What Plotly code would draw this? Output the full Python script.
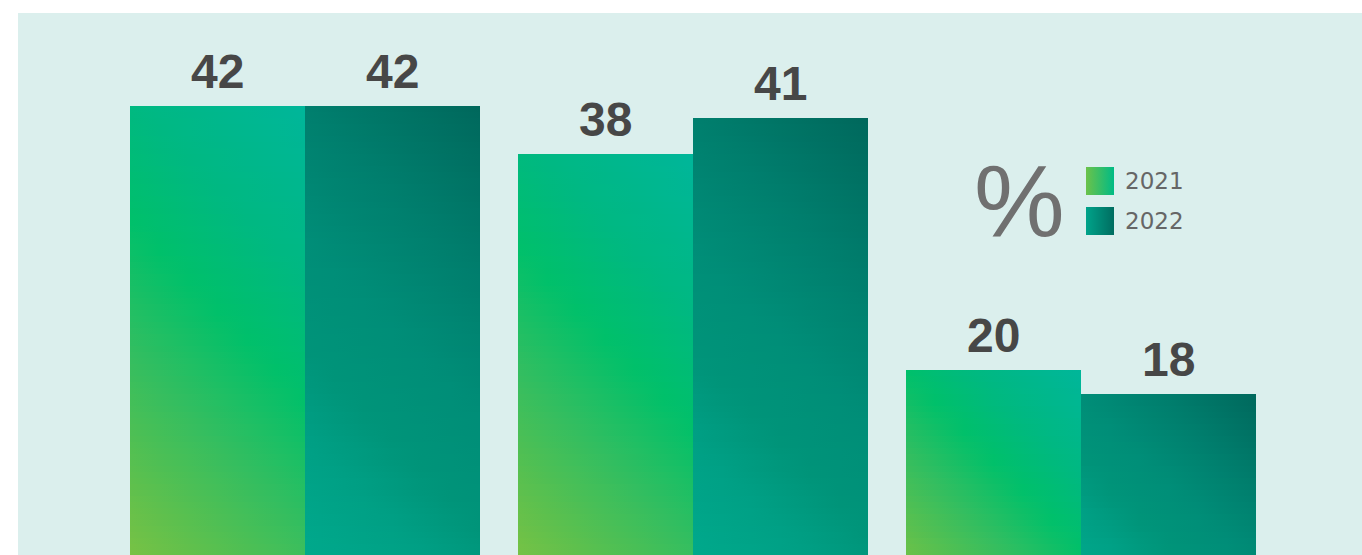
import plotly.graph_objects as go

# ---------------- data ----------------
categories = ["Group A", "Group B", "Group C"]
years = ["2021", "2022"]
values_2021 = [42, 38, 20]
values_2022 = [42, 41, 18]
unit_label = "%"

# ---------------- style ----------------
BG = "#dbefed"
LABEL_COLOR = "#474747"
LEGEND_TEXT = "#666666"
FONT = "Liberation Sans, Arial, sans-serif"

# diagonal gradient stops (s=0 top-right of bar, s=1 bottom-left)
SCALE_2021 = [(0.0, "#00b69a"), (0.25, "#00b882"), (0.43, "#00c06a"),
              (0.62, "#33be60"), (0.8, "#5cc04e"), (0.92, "#78c244"), (1.0, "#8cc63f")]
SCALE_2022 = [(0.0, "#00685c"), (0.25, "#007e6d"), (0.46, "#008e78"),
              (0.62, "#009479"), (0.75, "#00a085"), (0.9, "#00a88b"), (1.0, "#00ae8e")]
BASE_2021 = "#00bd72"
BASE_2022 = "#008e78"

# geometry (page margin removed in post_script; figure fills the window)
FIG_W, FIG_H = 1362, 555
M_L, M_T = 18, 13
PX_X = 388.0            # pixels per category unit
PX_Y = 12.0             # pixels per value unit
BAR_W = 175.0 / PX_X    # bar width in category units
plot_w = FIG_W - M_L
plot_h = FIG_H - M_T
x_lo = -287.0 / PX_X
X_RANGE = [x_lo, x_lo + plot_w / PX_X]
y_hi = 42 + 93.0 / PX_Y
Y_RANGE = [y_hi - plot_h / PX_Y, y_hi]
SCREEN_X = [M_L, M_L + plot_w]
SCREEN_Y = [M_T + plot_h, M_T]


def hex2rgb(h):
    h = h.lstrip("#")
    return tuple(int(h[i:i + 2], 16) for i in (0, 2, 4))


def color_at(scale, s):
    s = min(max(s, 0.0), 1.0)
    for (p0, c0), (p1, c1) in zip(scale[:-1], scale[1:]):
        if p0 <= s <= p1:
            t = 0 if p1 == p0 else (s - p0) / (p1 - p0)
            a, b = hex2rgb(c0), hex2rgb(c1)
            r = [round(a[i] + (b[i] - a[i]) * t) for i in range(3)]
            return "rgb(%d,%d,%d)" % tuple(r)
    return scale[-1][1]


fig = go.Figure()

# real bars underneath (solid base colour)
fig.add_trace(go.Bar(x=list(range(len(categories))), y=values_2021, name=years[0],
                     marker=dict(color=BASE_2021, line=dict(width=0)),
                     hovertext=categories, hoverinfo="text+y"))
fig.add_trace(go.Bar(x=list(range(len(categories))), y=values_2022, name=years[1],
                     marker=dict(color=BASE_2022, line=dict(width=0)),
                     hovertext=categories, hoverinfo="text+y"))


def add_gradient_bar(x0, x1, top, scale, name):
    L = top * PX_Y + (x1 - x0) * PX_X

    def s_of(x, y):
        return ((top - y) * PX_Y + (x1 - x) * PX_X) / L

    step = 0.5
    yh = top
    while yh > 0:
        yl = yh - step
        last = yl < Y_RANGE[0] - 0.5
        if last:
            yl = 0
        ym = (yh + yl) / 2 if not last else yh - step / 2
        sl, sr = s_of(x0, ym), s_of(x1, ym)
        cs = [[k / 6, color_at(scale, sl + (sr - sl) * k / 6)] for k in range(7)]
        fig.add_trace(go.Scatter(
            x=[x0, x1, x1, x0, x0], y=[yh, yh, yl, yl, yh],
            mode="lines", line=dict(width=0), fill="toself",
            fillgradient=dict(type="horizontal", start=x0, stop=x1, colorscale=cs),
            hoverinfo="skip", showlegend=False, name=name))
        if last:
            break
        yh = yl


for i, cat in enumerate(categories):
    add_gradient_bar(i - BAR_W, i, values_2021[i], SCALE_2021, years[0])
    add_gradient_bar(i, i + BAR_W, values_2022[i], SCALE_2022, years[1])

# value labels
annotations = []
for i in range(len(categories)):
    for v, off in ((values_2021[i], -BAR_W / 2), (values_2022[i], BAR_W / 2)):
        annotations.append(dict(
            x=i + off, y=v, xref="x", yref="y", text=str(v), showarrow=False,
            yanchor="bottom", yshift=6,
            font=dict(family=FONT, size=48, color=LABEL_COLOR, weight="bold")))

# "%" unit marker and legend (overlay axes in screen pixels)
annotations.append(dict(x=1019, y=201, xref="x2", yref="y2", text=unit_label,
                        showarrow=False, xanchor="center", yanchor="middle",
                        font=dict(family=FONT, size=102, color="#707070")))

legend_items = [(years[0], 167, [[0, "#6cc24a"], [1, "#00bb85"]]),
                (years[1], 207, [[0, "#00a38a"], [1, "#006d60"]])]
for label, ytop, cs in legend_items:
    fig.add_trace(go.Scatter(
        x=[1086, 1114, 1114, 1086, 1086], y=[ytop, ytop, ytop + 28, ytop + 28, ytop],
        xaxis="x2", yaxis="y2", mode="lines", line=dict(width=0), fill="toself",
        fillgradient=dict(type="horizontal", start=1086, stop=1114, colorscale=cs),
        hoverinfo="skip", showlegend=False, name=label))
    annotations.append(dict(x=1123, y=ytop + 14, xref="x2", yref="y2", text=label,
                            showarrow=False, xanchor="left", yanchor="middle",
                            font=dict(family="DejaVu Sans, Verdana, sans-serif",
                                      size=23, color=LEGEND_TEXT)))

fig.update_layout(
    width=FIG_W, height=FIG_H,
    margin=dict(l=M_L, r=0, t=M_T, b=0),
    paper_bgcolor="white", plot_bgcolor=BG,
    showlegend=False,
    barmode="group", bargap=1 - 2 * BAR_W, bargroupgap=0,
    xaxis=dict(range=X_RANGE, visible=False, showgrid=False, zeroline=False, fixedrange=True),
    yaxis=dict(range=Y_RANGE, visible=False, showgrid=False, zeroline=False, fixedrange=True),
    xaxis2=dict(range=SCREEN_X, overlaying="x", visible=False, fixedrange=True),
    yaxis2=dict(range=SCREEN_Y, overlaying="y", visible=False, fixedrange=True),
    annotations=annotations,
)

fig.write_html("out.html",
               config={"displayModeBar": False},
               post_script="var de=document.documentElement, b=document.body;"
                           "de.style.scrollbarWidth='none'; b.style.scrollbarWidth='none';"
                           "de.style.scrollbarColor='" + BG + " " + BG + "';"
                           "b.style.margin='0';"
                           "de.style.overflow='hidden'; b.style.overflow='hidden';"
                           "b.style.background='" + BG + "';"
                           "de.style.background='" + BG + "';")
